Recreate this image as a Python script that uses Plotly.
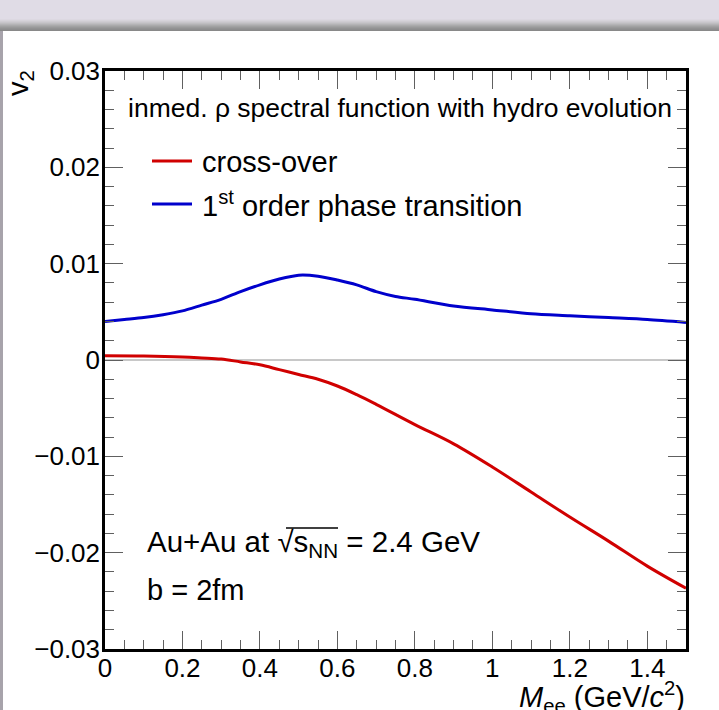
import plotly.graph_objects as go

# ---- data -------------------------------------------------------------
mass_blue = [0.00, 0.05, 0.10, 0.15, 0.20, 0.25, 0.30, 0.35, 0.40, 0.45, 0.50,
             0.55, 0.60, 0.65, 0.70, 0.75, 0.80, 0.90, 1.00, 1.10, 1.20, 1.30,
             1.40, 1.50]
v2_first_order = [0.0040, 0.0042, 0.0044, 0.0047, 0.0051, 0.0057, 0.0063, 0.0071,
                  0.0078, 0.0084, 0.0088, 0.0087, 0.0083, 0.0078, 0.0071, 0.0066,
                  0.0063, 0.0056, 0.0052, 0.0048, 0.0046, 0.0044, 0.0042, 0.0039]

mass_red = [0.00, 0.10, 0.20, 0.25, 0.30, 0.35, 0.40, 0.45, 0.50, 0.55, 0.60,
            0.65, 0.70, 0.80, 0.90, 1.00, 1.10, 1.20, 1.30, 1.40, 1.50]
v2_crossover = [0.00045, 0.00042, 0.00032, 0.00022, 0.0001, -0.0002, -0.0005,
                -0.0010, -0.0015, -0.0020, -0.0027, -0.0036, -0.0046, -0.0067,
                -0.0087, -0.0111, -0.0137, -0.0163, -0.0188, -0.0214, -0.0237]

x_ticks = [0, 0.2, 0.4, 0.6, 0.8, 1.0, 1.2, 1.4]
x_tick_labels = ["0", "0.2", "0.4", "0.6", "0.8", "1", "1.2", "1.4"]
y_ticks = [-0.03, -0.02, -0.01, 0, 0.01, 0.02, 0.03]
y_tick_labels = ["\u22120.03", "\u22120.02", "\u22120.01", "0", "0.01", "0.02", "0.03"]

RED = "#d00000"
BLUE = "#0000cc"
FONT = "Liberation Sans, Arial, sans-serif"

# ---- page geometry (pixels) -------------------------------------------
W, H = 719, 710
L, R, T, B = 105, 686, 71, 649


def px(x):
    return (x - L) / (R - L)


def py(y):
    return (B - y) / (B - T)


fig = go.Figure()
fig.add_trace(go.Scatter(x=mass_red, y=v2_crossover, mode="lines",
                         line=dict(color=RED, width=3, shape="spline", smoothing=1.0),
                         showlegend=False, hoverinfo="skip"))
fig.add_trace(go.Scatter(x=mass_blue, y=v2_first_order, mode="lines",
                         line=dict(color=BLUE, width=3, shape="spline", smoothing=0.8),
                         showlegend=False, hoverinfo="skip"))

# ---- window chrome: lavender band, shadow and left strip ---------------
shapes = [dict(type="rect", xref="paper", yref="paper", x0=px(0), x1=px(W),
               y0=py(0), y1=py(31), fillcolor="#e0dce6", line_width=0, layer="below")]
shade = ["#dcd8e1", "#d6d3da", "#cfccd2", "#c7c5ca", "#bebdc0", "#b4b3b6",
         "#aaaaab", "#a1a1a2", "#99999a", "#929293", "#8d8d8e", "#898989"]
for i, c in enumerate(shade):
    shapes.append(dict(type="rect", xref="paper", yref="paper", x0=px(0), x1=px(W),
                       y0=py(19 + i), y1=py(20 + i), fillcolor=c, line_width=0,
                       layer="below"))
shapes.append(dict(type="rect", xref="paper", yref="paper", x0=px(0), x1=px(3),
                   y0=py(31), y1=py(H), fillcolor="#a7a3ab", line_width=0, layer="below"))

# legend line samples
shapes.append(dict(type="line", xref="paper", yref="paper", x0=px(152), x1=px(192),
                   y0=py(161), y1=py(161), line=dict(color=RED, width=3)))
shapes.append(dict(type="line", xref="paper", yref="paper", x0=px(152), x1=px(192),
                   y0=py(204), y1=py(204), line=dict(color=BLUE, width=3)))
# bar of the square-root sign over s_NN
shapes.append(dict(type="line", xref="paper", yref="paper", x0=px(286), x1=px(338),
                   y0=py(528), y1=py(528), line=dict(color="black", width=1.3)))


def label(text, x, y, size, xanchor="left", angle=0):
    return dict(text=text, x=px(x), y=py(y), xref="paper", yref="paper",
                xanchor=xanchor, yanchor="middle", showarrow=False, textangle=angle,
                font=dict(family=FONT, size=size, color="black"))


annotations = [
    label("inmed. \u03c1 spectral function with hydro evolution", 126, 108, 26.5),
    label("cross-over", 200, 162, 29),
    label("1<sup>st</sup> order phase transition", 200, 204, 29),
    label("Au+Au at \u221as<sub>NN</sub> = 2.4 GeV", 145, 543, 29.5),
    label("b = 2fm", 145, 590, 29),
    label("<i>M</i><sub>ee</sub> (GeV/<i>c</i><sup>2</sup>)", 687, 697, 29, xanchor="right"),
    dict(text="v<sub>2</sub>", x=px(20), y=py(68), xref="paper", yref="paper",
         xanchor="center", yanchor="top", showarrow=False, textangle=-90,
         font=dict(family=FONT, size=29, color="black")),
]

axis_common = dict(
    showline=True, linecolor="black", linewidth=2.5, mirror="allticks",
    ticks="inside", ticklen=18, tickwidth=1, tickcolor="#606060",
    showgrid=False, tickfont=dict(family=FONT, size=26, color="black"),
)

fig.update_xaxes(range=[0, 1.5], tickvals=x_ticks, ticktext=x_tick_labels,
                 zeroline=False, ticklabelstandoff=-6,
                 minor=dict(dtick=0.05, ticks="inside", ticklen=9, tickwidth=1,
                            tickcolor="#606060", showgrid=False),
                 **axis_common)
fig.update_yaxes(range=[-0.03, 0.03], tickvals=y_ticks, ticktext=y_tick_labels,
                 zeroline=True, zerolinecolor="#c8c8c8", zerolinewidth=1.5,
                 ticklabelstandoff=-3,
                 minor=dict(dtick=0.002, ticks="inside", ticklen=9, tickwidth=1,
                            tickcolor="#606060", showgrid=False),
                 **axis_common)

fig.update_layout(width=W, height=H, margin=dict(l=L, r=W - R, t=T, b=H - B),
                  paper_bgcolor="white", plot_bgcolor="white",
                  shapes=shapes, annotations=annotations, showlegend=False)

fig.write_html("out.html")
